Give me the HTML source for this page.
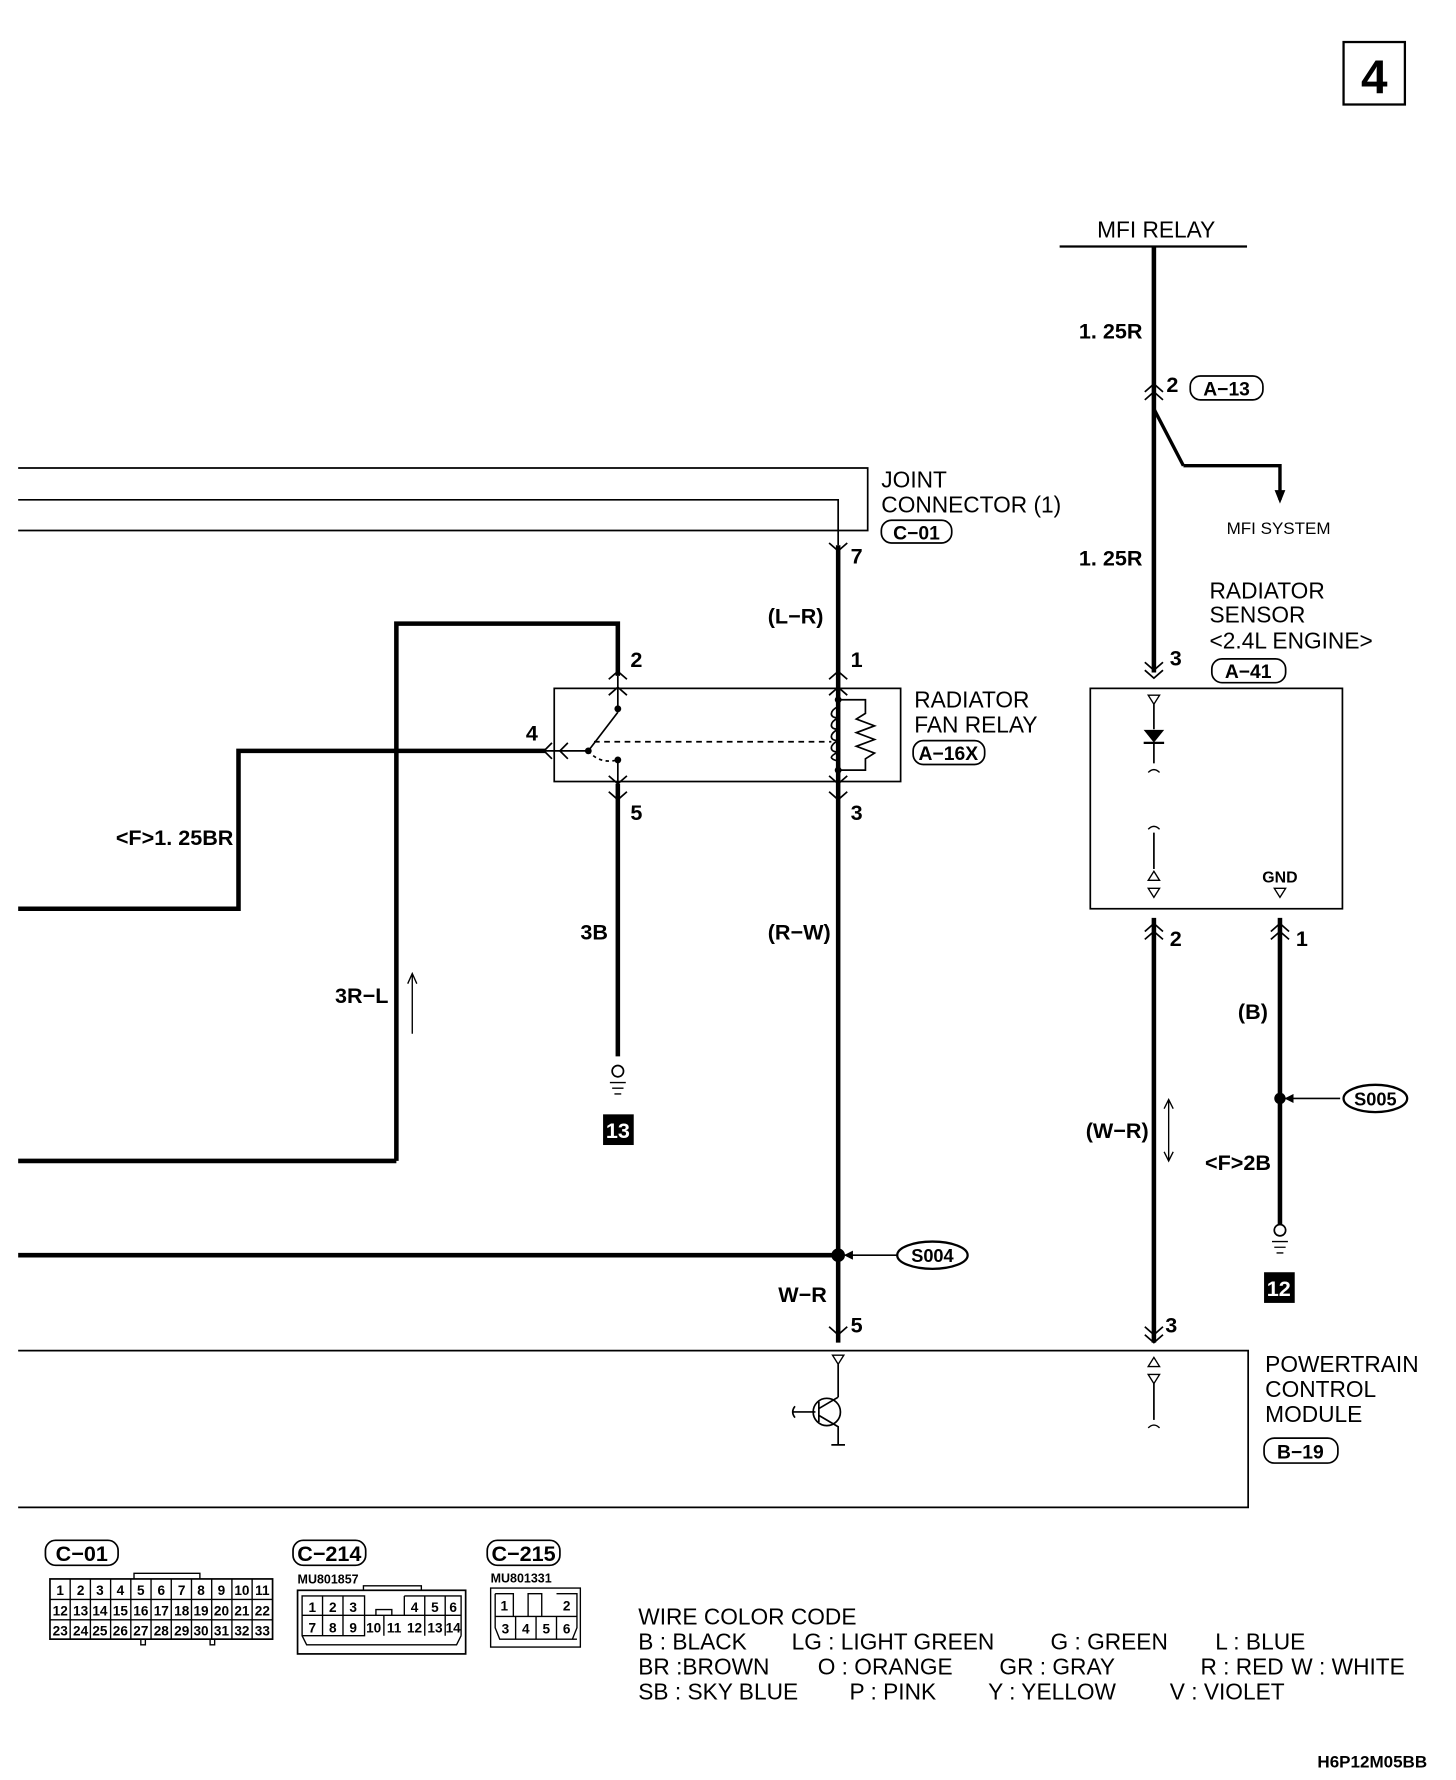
<!DOCTYPE html>
<html><head><style>html,body{margin:0;padding:0;background:#fff}svg{display:block}</style></head>
<body>
<svg width="1456" height="1780" viewBox="0 0 1282 1567" preserveAspectRatio="none" xmlns="http://www.w3.org/2000/svg" font-family="Liberation Sans, sans-serif">
<defs>
<marker id="ah" markerWidth="8" markerHeight="8" refX="7" refY="4" orient="auto" markerUnits="userSpaceOnUse"><path d="M0,0 L8,4 L0,8 z" fill="#000"/></marker>
</defs>
<g fill="none" stroke="#000">
<rect x="1183" y="37" width="54" height="55" stroke-width="2"/>
<line x1="933" y1="217" x2="1098" y2="217" stroke-width="2"/>
<line x1="1016" y1="217" x2="1016" y2="592" stroke-width="4"/>
<path d="M1042,410 L1127,410 L1127,440" stroke-width="3"/>
<path d="M1016,360 L1042,410" stroke-width="3"/>
<g stroke-width="1.5">
<path d="M1008,345 l8,-7 l8,7 M1008,352 l8,-7 l8,7"/>
<path d="M1008,590 l8,7 l8,-7 M1008,583 l8,7 l8,-7"/>
<path d="M1008,820 l8,-7 l8,7 M1008,827 l8,-7 l8,7"/>
<path d="M1119,820 l8,-7 l8,7 M1119,827 l8,-7 l8,7"/>
<path d="M1008,1175 l8,7 l8,-7 M1008,1168 l8,7 l8,-7"/>
<path d="M730,478 l8,7 l8,-7"/>
<path d="M730,598 l8,-7 l8,7 M730,612 l8,-7 l8,7"/>
<path d="M536,598 l8,-7 l8,7 M536,612 l8,-7 l8,7"/>
<path d="M536,683 l8,7 l8,-7 M536,697 l8,7 l8,-7"/>
<path d="M730,683 l8,7 l8,-7 M730,697 l8,7 l8,-7"/>
<path d="M730,1168 l8,7 l8,-7"/>
<path d="M486,654 l-7,7 l7,7 M500,654 l-7,7 l7,7"/>
</g>
<path d="M1123,432 l4,10 l4,-10 z" fill="#000" stroke-width="1"/>
<rect x="960" y="606" width="222" height="194" stroke-width="1.5"/>
<path d="M1011,612 l5,8 l5,-8 z M1011,782 l5,8 l5,-8 z M1011,775 l5,-8 l5,8 z M1122,782 l5,8 l5,-8 z" stroke-width="1.2"/>
<line x1="1016" y1="620" x2="1016" y2="642" stroke-width="1.5"/>
<path d="M1008,643 l8,10 l8,-10 z" fill="#000" stroke-width="1"/>
<line x1="1007" y1="654" x2="1025" y2="654" stroke-width="2"/>
<line x1="1016" y1="654" x2="1016" y2="672" stroke-width="1.5"/>
<path d="M1011,680 q5,-5 10,0 M1011,730 q5,-5 10,0" stroke-width="1.2"/>
<line x1="1016" y1="733" x2="1016" y2="765" stroke-width="1.5"/>
<line x1="1016" y1="808" x2="1016" y2="1182" stroke-width="4"/>
<line x1="1127" y1="808" x2="1127" y2="1078" stroke-width="4"/>
<line x1="1180" y1="967" x2="1132" y2="967" stroke-width="1.5" marker-end="url(#ah)"/>
<ellipse cx="1211" cy="967" rx="28" ry="12" stroke-width="2"/>
<path d="M1029,968 l0,54 M1025,976 l4,-8 l4,8 M1025,1014 l4,8 l4,-8" stroke-width="1.2"/>
<circle cx="1127" cy="1083" r="5" stroke-width="1.5"/>
<path d="M1120,1093 h14 M1122,1098 h10 M1124,1103 h6" stroke-width="1.2"/>
<path d="M16,412 L764,412 L764,467 L16,467" stroke-width="1.5"/>
<path d="M16,440 L738,440 L738,480" stroke-width="1.5"/>
<line x1="738" y1="480" x2="738" y2="1182" stroke-width="4"/>
<rect x="488" y="606" width="305" height="82" stroke-width="1.5"/>
<path d="M349,1022 L16,1022 M349,1022 L349,549 L544,549 L544,595" stroke-width="4"/>
<line x1="544" y1="595" x2="544" y2="627" stroke-width="1.5"/>
<line x1="544" y1="627" x2="518" y2="661" stroke-width="1.5"/>
<path d="M518,661 q10,12 26,8" stroke-width="1.5" stroke-dasharray="3,3"/>
<line x1="544" y1="669" x2="544" y2="690" stroke-width="1.5"/>
<line x1="523" y1="653" x2="732" y2="653" stroke-width="1.5" stroke-dasharray="5,4"/>
<line x1="480" y1="661" x2="518" y2="661" stroke-width="1.5"/>
<path d="M480,661 L210,661 L210,800 L16,800" stroke-width="4"/>
<line x1="544" y1="690" x2="544" y2="930" stroke-width="4"/>
<path d="M738,616 L762,616 L762,628 l-8,5 l16,6 l-16,6 l16,6 l-16,6 l16,6 l-8,5 L762,678 L738,678" stroke-width="1.5"/>
<path d="M738,622 c-8,4 -8,10 0,10 c-8,4 -8,10 0,10 c-8,4 -8,10 0,10 c-8,4 -8,10 0,10 c-8,4 -8,6 0,8" stroke-width="1.5"/>
<path d="M363,910 L363,857 M359,866 l4,-9 l4,9" stroke-width="1.2"/>
<circle cx="544" cy="943" r="5" stroke-width="1.5"/>
<path d="M537,953 h14 M539,958 h10 M541,963 h6" stroke-width="1.2"/>
<line x1="16" y1="1105" x2="738" y2="1105" stroke-width="4"/>
<line x1="790" y1="1105" x2="744" y2="1105" stroke-width="1.5" marker-end="url(#ah)"/>
<ellipse cx="821" cy="1105" rx="31" ry="12" stroke-width="2"/>
<path d="M16,1189 L1099,1189 L1099,1327 L16,1327" stroke-width="1.5"/>
<path d="M733,1193 l5,8 l5,-8 z M1011,1203 l5,-8 l5,8 z M1011,1210 l5,8 l5,-8 z" stroke-width="1.2"/>
<line x1="738" y1="1201" x2="738" y2="1230" stroke-width="1.5"/>
<line x1="1016" y1="1218" x2="1016" y2="1250" stroke-width="1.5"/>
<path d="M1011,1257 q5,-5 10,0" stroke-width="1.2"/>
<circle cx="728" cy="1243" r="12" stroke-width="1.5"/>
<path d="M721,1234 v18 M721,1240 l17,-10 M721,1246 l17,10 L738,1272 M732,1272 h12 M698,1243 h20 M700,1238 q-4,5 0,10" stroke-width="1.5"/>
<rect x="1048" y="331" width="64" height="21" rx="9" stroke-width="1.5"/>
<rect x="1067" y="580" width="65" height="21" rx="9" stroke-width="1.5"/>
<rect x="776" y="458" width="62" height="20" rx="9" stroke-width="1.5"/>
<rect x="804" y="652" width="63" height="21" rx="9" stroke-width="1.5"/>
<rect x="1113" y="1266" width="65" height="22" rx="9" stroke-width="1.5"/>
<rect x="40" y="1356" width="64" height="22" rx="9" stroke-width="1.5"/>
<rect x="258" y="1356" width="64" height="22" rx="9" stroke-width="1.5"/>
<rect x="429" y="1356" width="64" height="22" rx="9" stroke-width="1.5"/>
<rect x="44" y="1390" width="196" height="53" stroke-width="1.5"/>
<path d="M44,1408 h196 M44,1426 h196 M61.8,1390 v53 M79.6,1390 v53 M97.4,1390 v53 M115.2,1390 v53 M133,1390 v53 M150.8,1390 v53 M168.6,1390 v53 M186.4,1390 v53 M204.2,1390 v53 M222,1390 v53 M118,1390 v-5 h58 v5 M124,1443 v5 h4 v-5 M185,1443 v5 h4 v-5" stroke-width="1.2"/>
<rect x="262" y="1400" width="148" height="56" stroke-width="1.5"/>
<path d="M266,1405 h55 v35 h-55 z M266,1422 h140 M284,1405 v35 M302,1405 v35 M356,1405 h50 v35 M356,1405 v17 M374,1405 v35 M392,1405 v35 M321,1440 v-18 M338,1422 v18 M331,1422 v-5 h14 v5 M266,1440 l4,8 h132 l4,-8 M320,1400 v-4 h51 v4" stroke-width="1.2"/>
<path d="M432,1398 h79 v52 h-79 z M436,1403 h16 v20 M436,1403 v30 l4,10 h68 l0,0 M508,1403 v30 l-4,10 M490,1403 h18 v20 M465,1403 h12 v20 h-12 z M436,1423 h72 M454,1423 v20 M472,1423 v20 M490,1423 v20" stroke-width="1.2"/>
</g>
<g fill="#000">
<text x="1210" y="82" font-size="42" font-weight="bold" text-anchor="middle">4</text>
<text x="1018" y="209" font-size="20" text-anchor="middle">MFI RELAY</text>
<g font-weight="bold" font-size="19">
<text x="950" y="298">1. 25R</text>
<text x="950" y="498">1. 25R</text>
<text x="1027" y="345">2</text>
<text x="1030" y="586">3</text>
<text x="1030" y="833">2</text>
<text x="1141" y="833">1</text>
<text x="1026" y="1173">3</text>
<text x="749" y="496">7</text>
<text x="749" y="587">1</text>
<text x="749" y="722">3</text>
<text x="749" y="1173">5</text>
<text x="555" y="587">2</text>
<text x="555" y="722">5</text>
<text x="463" y="652">4</text>
<text x="676" y="549">(L−R)</text>
<text x="676" y="827">(R−W)</text>
<text x="728" y="1146" text-anchor="end">W−R</text>
<text x="511" y="827">3B</text>
<text x="295" y="883">3R−L</text>
<text x="102" y="744">&lt;F&gt;1. 25BR</text>
<text x="1090" y="897">(B)</text>
<text x="1061" y="1030">&lt;F&gt;2B</text>
<text x="956" y="1002">(W−R)</text>
</g>
<g font-weight="bold" font-size="17">
<text x="1080" y="348" text-anchor="middle">A−13</text>
<text x="1099" y="597" text-anchor="middle">A−41</text>
<text x="807" y="475" text-anchor="middle">C−01</text>
<text x="835" y="669" text-anchor="middle">A−16X</text>
<text x="1145" y="1284" text-anchor="middle">B−19</text>
<text x="1211" y="973" text-anchor="middle" font-size="16">S005</text>
<text x="821" y="1111" text-anchor="middle" font-size="16">S004</text>
<text x="72" y="1374" text-anchor="middle" font-size="19">C−01</text>
<text x="290" y="1374" text-anchor="middle" font-size="19">C−214</text>
<text x="461" y="1374" text-anchor="middle" font-size="19">C−215</text>
</g>
<text x="1080" y="470" font-size="15">MFI SYSTEM</text>
<text x="1127" y="777" font-size="14" font-weight="bold" text-anchor="middle">GND</text>
<g font-size="20">
<text x="776" y="429">JOINT</text>
<text x="776" y="451">CONNECTOR (1)</text>
<text x="1065" y="527">RADIATOR</text>
<text x="1065" y="548">SENSOR</text>
<text x="1065" y="571">&lt;2.4L ENGINE&gt;</text>
<text x="805" y="623">RADIATOR</text>
<text x="805" y="645">FAN RELAY</text>
<text x="1114" y="1208">POWERTRAIN</text>
<text x="1114" y="1230">CONTROL</text>
<text x="1114" y="1252">MODULE</text>
<text x="562" y="1430">WIRE COLOR CODE</text>
<text x="562" y="1452">B : BLACK</text><text x="697" y="1452">LG : LIGHT GREEN</text><text x="925" y="1452">G : GREEN</text><text x="1070" y="1452">L : BLUE</text>
<text x="562" y="1474">BR :BROWN</text><text x="720" y="1474">O : ORANGE</text><text x="880" y="1474">GR : GRAY</text><text x="1057" y="1474">R : RED</text><text x="1137" y="1474">W : WHITE</text>
<text x="562" y="1496">SB : SKY BLUE</text><text x="748" y="1496">P : PINK</text><text x="870" y="1496">Y : YELLOW</text><text x="1030" y="1496">V : VIOLET</text>
</g>
<rect x="531" y="981" width="27" height="27"/>
<text x="544" y="1002" font-size="19" font-weight="bold" fill="#fff" text-anchor="middle">13</text>
<rect x="1113" y="1120" width="27" height="27"/>
<text x="1126" y="1141" font-size="19" font-weight="bold" fill="#fff" text-anchor="middle">12</text>
<circle cx="1127" cy="967" r="5"/>
<circle cx="738" cy="1105" r="6"/>
<circle cx="544" cy="624" r="3"/><circle cx="518" cy="661" r="3"/><circle cx="544" cy="669" r="3"/>
<circle cx="738" cy="616" r="3"/><circle cx="738" cy="678" r="3"/>
<g font-size="11" font-weight="bold">
<text x="262" y="1394">MU801857</text>
<text x="432" y="1393">MU801331</text>
</g>
<g font-size="12" font-weight="bold" text-anchor="middle">
<text x="53" y="1404">1</text><text x="71" y="1404">2</text><text x="88" y="1404">3</text><text x="106" y="1404">4</text><text x="124" y="1404">5</text><text x="142" y="1404">6</text><text x="160" y="1404">7</text><text x="177" y="1404">8</text><text x="195" y="1404">9</text><text x="213" y="1404">10</text><text x="231" y="1404">11</text>
<text x="53" y="1422">12</text><text x="71" y="1422">13</text><text x="88" y="1422">14</text><text x="106" y="1422">15</text><text x="124" y="1422">16</text><text x="142" y="1422">17</text><text x="160" y="1422">18</text><text x="177" y="1422">19</text><text x="195" y="1422">20</text><text x="213" y="1422">21</text><text x="231" y="1422">22</text>
<text x="53" y="1440">23</text><text x="71" y="1440">24</text><text x="88" y="1440">25</text><text x="106" y="1440">26</text><text x="124" y="1440">27</text><text x="142" y="1440">28</text><text x="160" y="1440">29</text><text x="177" y="1440">30</text><text x="195" y="1440">31</text><text x="213" y="1440">32</text><text x="231" y="1440">33</text>
<text x="275" y="1419">1</text><text x="293" y="1419">2</text><text x="311" y="1419">3</text><text x="365" y="1419">4</text><text x="383" y="1419">5</text><text x="399" y="1419">6</text>
<text x="275" y="1437">7</text><text x="293" y="1437">8</text><text x="311" y="1437">9</text><text x="329" y="1437">10</text><text x="347" y="1437">11</text><text x="365" y="1437">12</text><text x="383" y="1437">13</text><text x="399" y="1437">14</text>
<text x="444" y="1418">1</text><text x="499" y="1418">2</text>
<text x="445" y="1438">3</text><text x="463" y="1438">4</text><text x="481" y="1438">5</text><text x="499" y="1438">6</text>
</g>
<text x="1160" y="1556" font-size="15" font-weight="bold">H6P12M05BB</text>
</g>
</svg>
</body></html>
